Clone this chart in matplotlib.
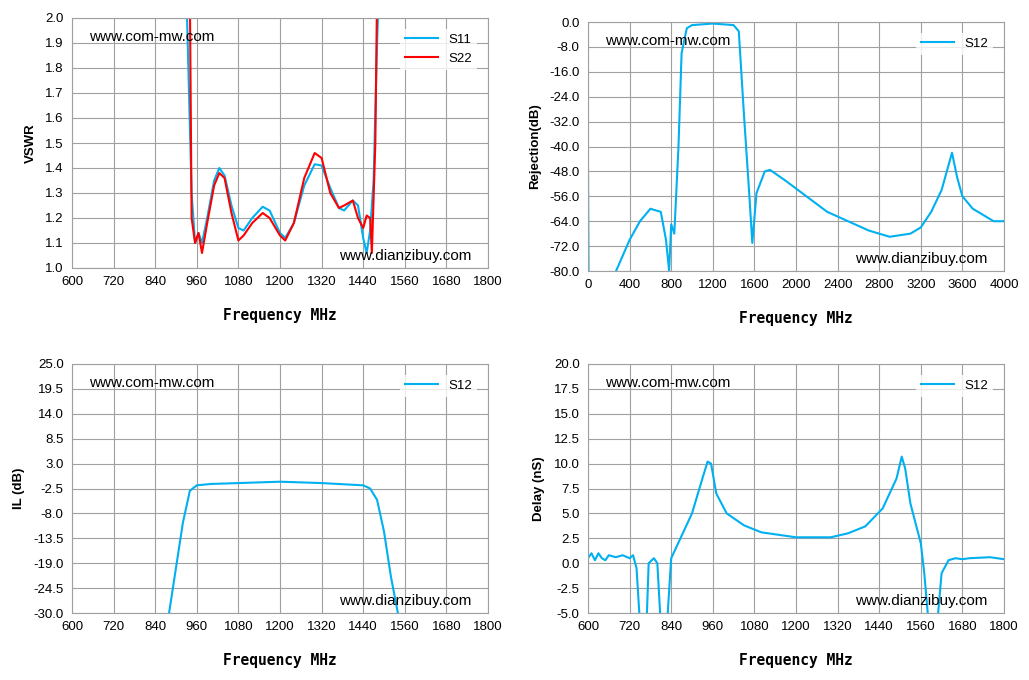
import numpy as np
import matplotlib.pyplot as plt

# VSWR panel
vswr_f = [930, 945, 955, 965, 975, 990, 1010, 1025, 1040, 1060, 1080, 1095, 1120, 1150, 1170, 1200, 1215, 1240,
          1270, 1300, 1320, 1345, 1370, 1385, 1410, 1425, 1440, 1450, 1460, 1470, 1480, 1485]
s11_vswr = [2.1, 1.3, 1.1, 1.14, 1.1, 1.2, 1.35, 1.4, 1.37, 1.25, 1.16, 1.15, 1.2, 1.245, 1.23, 1.14, 1.12, 1.18,
            1.33, 1.415, 1.41, 1.32, 1.24, 1.23, 1.27, 1.25, 1.12, 1.06, 1.15, 1.35, 1.9, 2.1]
s22_f = [940, 945, 955, 965, 975, 990, 1010, 1025, 1040, 1060, 1080, 1095, 1120, 1150, 1170, 1200, 1215, 1240,
         1270, 1300, 1320, 1345, 1370, 1385, 1410, 1425, 1440, 1450, 1460, 1465, 1475, 1480]
s22_vswr = [2.1, 1.2, 1.1, 1.14, 1.06, 1.18, 1.33, 1.38, 1.36, 1.22, 1.11, 1.13, 1.18, 1.22, 1.2, 1.13, 1.11, 1.18,
            1.36, 1.46, 1.44, 1.3, 1.24, 1.25, 1.27, 1.2, 1.16, 1.21, 1.2, 1.06, 1.5, 2.1]

# Rejection panel
rej_f = [0, 5, np.nan, 270, 400, 500, 600, 700, 750, 780, 800, 830, 870, 900, 950, 1000, 1200, 1400, 1450, 1500,
         1550, 1580, 1620, 1700, 1750, 1900, 2100, 2300, 2500, 2700, 2900, 3100, 3200, 3300, 3400, 3450, 3500,
         3550, 3600, 3700, 3800, 3900, 4000]
rej_db = [-47, -80, np.nan, -80, -70, -64, -60, -61, -70, -80, -65, -68, -40, -10, -2, -1, -0.5, -1, -3, -30,
          -55, -71, -55, -48, -47.5, -51, -56, -61, -64, -67, -69, -68, -66, -61, -54, -48, -42,
          -50, -56, -60, -62, -64, -64]

# Insertion loss panel
il_f = [880, 900, 920, 940, 960, 1000, 1200, 1320, 1440, 1460, 1480, 1500, 1520, 1540]
il_db = [-30, -20, -10, -3, -1.8, -1.5, -1, -1.3, -1.8, -2.5, -5, -12, -22, -30]

# Delay panel
dly_f = [600, 610, 620, 630, 640, 650, 660, 680, 700, 720, 730, 740, 748, np.nan, 770, 775, 790, 800, 808, np.nan,
         830, 840, 860, 900, 930, 945, 955, 970, 1000, 1050, 1100, 1200, 1300, 1350, 1400, 1450, 1490, 1505, 1515,
         1530, 1560, 1570, 1580, np.nan, 1610, 1620, 1640, 1660, 1680, 1700, 1760, 1800]
dly_ns = [0.5, 1, 0.3, 1, 0.5, 0.3, 0.8, 0.6, 0.8, 0.5, 0.8, -0.5, -5, np.nan, -5, 0, 0.5, 0, -5, np.nan,
          -5, 0.5, 2, 5, 8.5, 10.2, 10, 7, 5, 3.8, 3.1, 2.6, 2.6, 3.0, 3.7, 5.5, 8.5, 10.7, 9.5,
          6, 2, -1, -5, np.nan, -5, -1, 0.3, 0.5, 0.4, 0.5, 0.6, 0.4]

blue = '#00b0f0'
red = '#ff0000'
plt.rcParams['font.family'] = ['Liberation Sans', 'DejaVu Sans']
fig = plt.figure(figsize=(10.29, 6.8), dpi=100)
W, H = 1029, 680

def make_ax(x0, x1, y0, y1):
    return fig.add_axes([x0 / W, 1 - y1 / H, (x1 - x0) / W, (y1 - y0) / H])

def style(ax, xlim, xticks, ylim, yticks, ylabel, yfmt):
    ax.set_xlim(*xlim)
    ax.set_ylim(*ylim)
    ax.set_xticks(xticks)
    ax.set_yticks(yticks)
    ax.set_yticklabels([yfmt.format(v) for v in yticks])
    ax.grid(color='#a0a0a0', lw=0.8)
    for s in ax.spines.values():
        s.set_color('#a0a0a0')
    ax.tick_params(length=0, labelsize=9.5, pad=6)
    ax.set_ylabel(ylabel, fontweight='bold', fontsize=9.5, labelpad=6)
    ax.set_xlabel('Frequency MHz', family='DejaVu Sans Mono', fontweight='bold', fontsize=10.5, labelpad=14)
    ax.text(0.04, 0.95, 'www.com-mw.com', transform=ax.transAxes, fontsize=11, va='top')
    ax.text(0.96, 0.02, 'www.dianzibuy.com', transform=ax.transAxes, fontsize=11, ha='right', va='bottom')

ax1 = make_ax(72, 488, 18, 268)
ax1.plot(vswr_f, s11_vswr, color=blue, lw=1.5, label='S11')
ax1.plot(s22_f, s22_vswr, color=red, lw=1.5, label='S22')
style(ax1, (600, 1800), np.arange(600, 1801, 120), (1.0, 2.0), np.arange(1.0, 2.01, 0.1), 'VSWR', '{:.1f}')

ax2 = make_ax(588, 1004, 22, 271)
ax2.plot(rej_f, rej_db, color=blue, lw=1.5, label='S12')
style(ax2, (0, 4000), np.arange(0, 4001, 400), (-80, 0), np.arange(-80, 0.1, 8), 'Rejection(dB)', '{:.1f}')

ax3 = make_ax(72, 488, 364, 613)
ax3.plot(il_f, il_db, color=blue, lw=1.5, label='S12')
style(ax3, (600, 1800), np.arange(600, 1801, 120), (-30, 25), np.arange(-30, 25.1, 5.5), 'IL (dB)', '{:.1f}')

ax4 = make_ax(588, 1004, 364, 613)
ax4.plot(dly_f, dly_ns, color=blue, lw=1.5, label='S12')
style(ax4, (600, 1800), np.arange(600, 1801, 120), (-5, 20), np.arange(-5, 20.1, 2.5), 'Delay (nS)', '{:.1f}')

for ax in (ax1, ax2, ax3, ax4):
    leg = ax.legend(loc='upper right', frameon=True, fontsize=9.5, handlelength=2.5, borderaxespad=0.8)
    leg.get_frame().set_edgecolor('none')

fig.savefig('out.png', dpi=100)
